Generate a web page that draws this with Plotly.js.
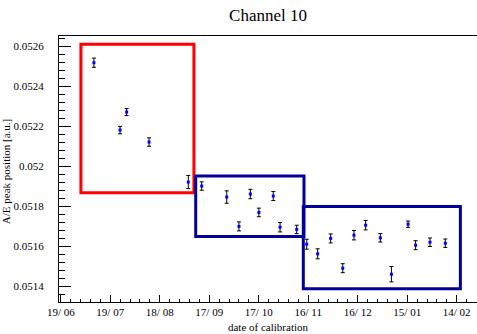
<!DOCTYPE html>
<html><head><meta charset="utf-8">
<script src="https://cdn.plot.ly/plotly-3.0.1.min.js"></script>
<style>html,body{margin:0;padding:0;overflow:hidden;background:#fff}</style>
</head><body>
<div id="chart" style="width:477px;height:334px"></div>
<script>
const dates = ["2019-07-09 02:00","2019-07-28 22:00","2019-07-24 22:00","2019-08-11 12:00","2019-09-04 07:00",
  "2019-09-12 10:00","2019-09-27 14:00","2019-10-05 00:00","2019-10-11 22:00","2019-10-17 02:00",
  "2019-10-25 19:00","2019-10-29 22:00","2019-11-09 00:00","2019-11-15 02:00","2019-11-21 17:00",
  "2019-11-29 14:00","2019-12-06 22:00","2019-12-13 17:00","2019-12-20 19:00","2019-12-29 17:00",
  "2020-01-05 10:00","2020-01-15 12:00","2020-01-20 02:00","2020-01-28 19:00","2020-02-07 02:00"];
const peakPos = [0.052518,0.052271,0.052181,0.052121,0.051921,
  0.051901,0.051846,0.051699,0.051861,0.051769,
  0.051851,0.051695,0.051684,0.051610,0.051562,
  0.051639,0.051490,0.051655,0.051705,0.051642,
  0.051460,0.051710,0.051605,0.051620,0.051615];
const peakErr = [0.000023,0.0000175,0.0000185,0.000021,0.000033,
  0.000021,0.000031,0.0000225,0.0000235,0.0000215,
  0.0000225,0.0000235,0.000021,0.000025,0.000025,
  0.0000225,0.0000225,0.0000235,0.0000235,0.000021,
  0.0000385,0.000016,0.0000225,0.000021,0.000021];
const yTickVals = [0.0514,0.0516,0.0518,0.052,0.0522,0.0524,0.0526];
const yTickText = ["0.0514","0.0516","0.0518","0.052","0.0522","0.0524","0.0526"];
const boxStart = ["2019-07-01 05:00","2019-09-08 19:00","2019-11-13 00:00"];
const boxEnd   = ["2019-09-07 17:00","2019-11-13 10:00","2020-02-16 05:00"];
const boxLow   = [0.051868,0.051649,0.051387];
const boxHigh  = [0.052610,0.051951,0.051799];
const xRange = ["2019-06-17 22:00","2020-02-26 07:00"];
const yRange = [0.0513209,0.0526516];

const SERIF = 'Liberation Serif';
const boxColors = ["#ff0000","#000099","#000099"];
const shapes = boxStart.map((s,i)=>({type:'rect',xref:'x',yref:'y',x0:s,x1:boxEnd[i],y0:boxLow[i],y1:boxHigh[i],
  line:{color:boxColors[i],width:3},fillcolor:'rgba(0,0,0,0)',layer:'above'}));

const DAY = 86400000;
const trace = {x:dates,y:peakPos,type:'scatter',mode:'markers',
  marker:{symbol:'square',size:3,color:'#0000ff',line:{width:0}},
  error_y:{type:'data',array:peakErr,visible:true,color:'black',thickness:1,width:2}};

const layout = {
  width:477,height:334,
  margin:{l:59,r:0,t:36,b:32,pad:0},
  paper_bgcolor:'white',plot_bgcolor:'white',showlegend:false,
  font:{family:SERIF,size:11,color:'black'},
  title:{text:'Channel 10',font:{size:17,family:SERIF,color:'black'},x:0.5,xref:'paper',xanchor:'center',y:0.955,yref:'container',yanchor:'middle'},
  xaxis:{type:'date',range:xRange,autorange:false,tickmode:'linear',tick0:'2019-06-19',dtick:30*DAY,tickformat:'%d/ %m',
    ticks:'inside',ticklen:7,tickcolor:'black',tickwidth:1,showline:true,linecolor:'black',linewidth:1,mirror:true,
    showgrid:false,zeroline:false,tickfont:{size:11,family:SERIF,color:'black'},
    minor:{tickmode:'linear',tick0:'2019-06-19',dtick:6*DAY,ticks:'inside',ticklen:3,tickcolor:'black',tickwidth:1,showgrid:false},
    title:{text:'date of calibration',font:{size:11,family:SERIF,color:'black'},standoff:6}},
  yaxis:{range:yRange,autorange:false,tickmode:'array',tickvals:yTickVals,ticktext:yTickText,
    ticks:'inside',ticklen:12,tickcolor:'black',tickwidth:1,showline:true,linecolor:'black',linewidth:1,mirror:false,
    showgrid:false,zeroline:false,tickfont:{size:11,family:SERIF,color:'black'},ticklabelstandoff:12,
    minor:{tickmode:'linear',tick0:0.0514,dtick:0.00004,ticks:'inside',ticklen:6,tickcolor:'black',tickwidth:1,showgrid:false}},
  annotations:[{text:'A/E peak position [a.u.]',textangle:-90,xref:'paper',yref:'paper',x:-0.128,y:0.49,
    xanchor:'center',yanchor:'middle',showarrow:false,font:{size:11,family:SERIF,color:'black'}}],
  shapes:shapes
};
Plotly.newPlot('chart',[trace],layout,{displayModeBar:false,staticPlot:true});
</script></body></html>
